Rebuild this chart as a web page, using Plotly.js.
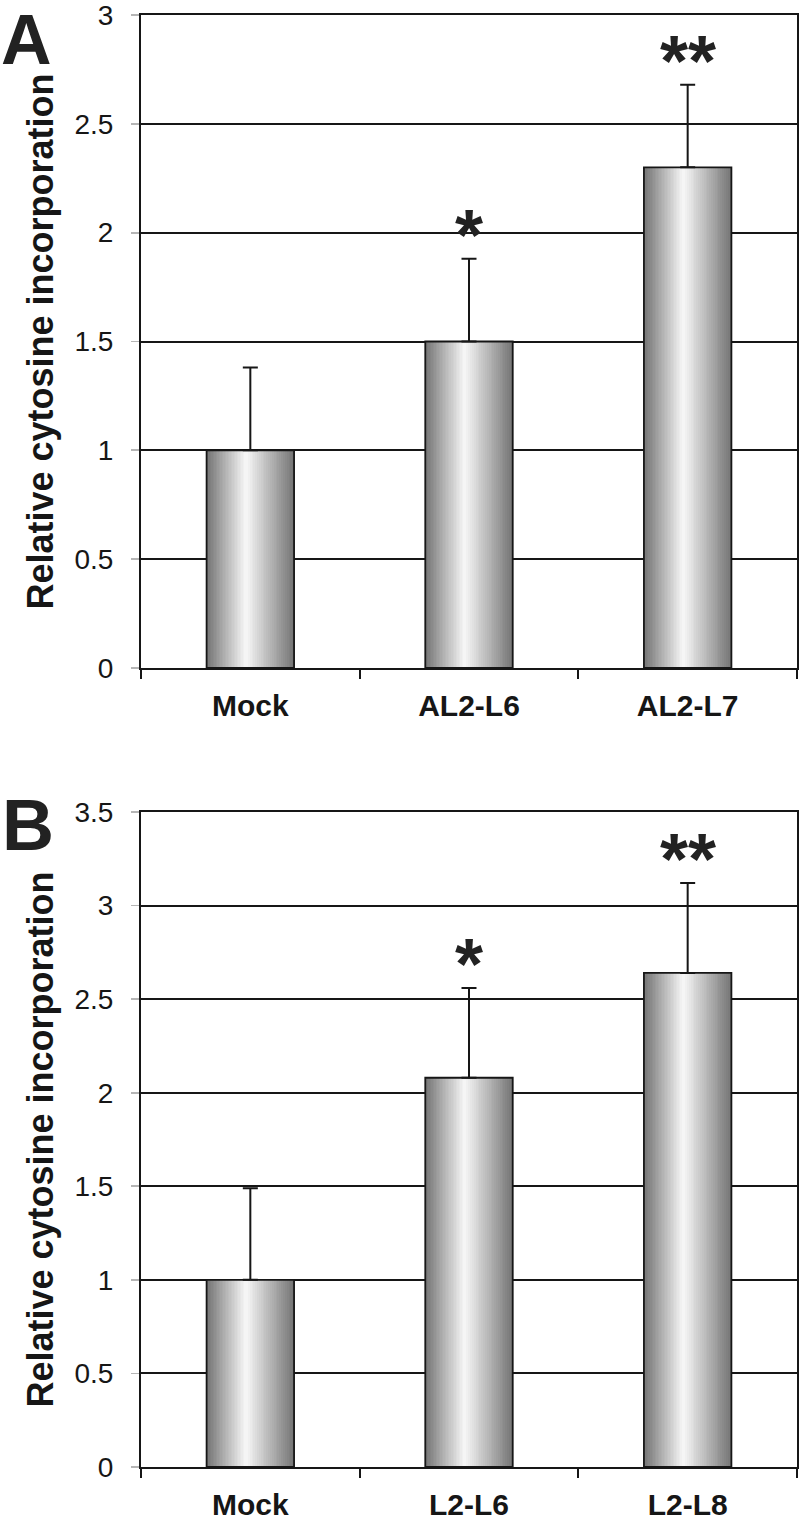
<!DOCTYPE html>
<html>
<head>
<meta charset="utf-8">
<script src="https://cdn.plot.ly/plotly-3.0.1.min.js"></script>
<style>
  html, body { margin: 0; padding: 0; background: #ffffff; }
  #chart { width: 800px; height: 1521px; }
</style>
</head>
<body>
<div id="chart"></div>
<script>
// ---- data ----
const catsA = ['Mock', 'AL2-L6', 'AL2-L7'];
const valsA = [1.0, 1.5, 2.3];
const errA  = [0.38, 0.38, 0.38];
const sigA  = ['', '*', '**'];

const catsB = ['Mock', 'L2-L6', 'L2-L8'];
const valsB = [1.0, 2.08, 2.64];
const errB  = [0.49, 0.48, 0.48];
const sigB  = ['', '*', '**'];

const yTicksA = [0, 0.5, 1, 1.5, 2, 2.5, 3];
const yTicksB = [0, 0.5, 1, 1.5, 2, 2.5, 3, 3.5];

// ---- styling ----
const FONT = 'Liberation Sans, Arial, sans-serif';
const INK = '#161616';
const BARW = 0.4;
const LAYERS = 26;
const HILITE_SHIFT = -0.02;   // highlight slightly left of centre

function barTraces(cats, vals, errs, xa, ya) {
  const traces = [];
  for (let k = 0; k < LAYERS; k++) {
    const frac = k / LAYERS;
    const r = 1 - frac;                       // relative distance from highlight
    const w = BARW * r;
    const g = Math.round(250 - 132 * r);
    traces.push({
      type: 'bar', x: cats, y: vals, xaxis: xa, yaxis: ya,
      width: w, offset: -w / 2 + HILITE_SHIFT * frac,
      marker: { color: `rgb(${g},${g},${g})`, line: { width: 0 } },
      hoverinfo: 'skip', showlegend: false
    });
  }
  // outline + error bars on top
  traces.push({
    type: 'bar', x: cats, y: vals, xaxis: xa, yaxis: ya,
    width: BARW,
    marker: { color: 'rgba(0,0,0,0)', line: { color: INK, width: 1.8 } },
    error_y: { type: 'data', array: errs, arrayminus: errs.map(() => 0),
               symmetric: false, color: INK, thickness: 2, width: 7.5 },
    hoverinfo: 'skip', showlegend: false
  });
  return traces;
}

const data = [].concat(
  barTraces(catsA, valsA, errA, 'x', 'y'),
  barTraces(catsB, valsB, errB, 'x2', 'y2')
);

function xAxis(domainAnchor) {
  return {
    type: 'category', range: [-0.5, 2.5], anchor: domainAnchor,
    showline: true, linecolor: INK, linewidth: 2, mirror: true,
    ticks: 'outside', tickson: 'boundaries', ticklen: 9, tickwidth: 1.8, tickcolor: INK,
    showgrid: false, zeroline: false,
    tickfont: { family: FONT, size: 30, color: INK, weight: 700 },
    ticklabelstandoff: 10, fixedrange: true
  };
}
function yAxis(range, ticks, dom, anchor) {
  return {
    range: range, domain: dom, anchor: anchor,
    tickmode: 'array', tickvals: ticks, ticktext: ticks.map(String),
    showline: true, linecolor: INK, linewidth: 2, mirror: true,
    showgrid: true, gridcolor: INK, gridwidth: 2, zeroline: false,
    ticks: 'outside', ticklen: 8, tickwidth: 1.8, tickcolor: '#b5b5b5',
    tickfont: { family: FONT, size: 28, color: INK },
    ticklabelstandoff: 12, ticklabeloverflow: 'allow',
    title: { text: 'Relative cytosine incorporation', standoff: 10,
             font: { family: FONT, size: 36, color: INK, weight: 700 } },
    fixedrange: true
  };
}

const annotations = [];
function addSig(cats, vals, errs, sig, xa, ya) {
  cats.forEach((c, i) => {
    if (!sig[i]) return;
    annotations.push({
      x: c, y: vals[i] + errs[i], xref: xa, yref: ya,
      text: sig[i], showarrow: false, xanchor: 'center', yanchor: 'bottom',
      yshift: -18,
      font: { family: FONT, size: 72, color: '#222', weight: 700 }
    });
  });
}
addSig(catsA, valsA, errA, sigA, 'x', 'y');
addSig(catsB, valsB, errB, sigB, 'x2', 'y2');

// panel letters
annotations.push({ text: 'A', xref: 'paper', yref: 'paper', x: -141 / 656, y: 1467 / 1452,
  xanchor: 'left', yanchor: 'top', showarrow: false, borderpad: 0,
  font: { family: FONT, size: 70, color: '#222', weight: 700 } });
annotations.push({ text: 'B', xref: 'paper', yref: 'paper', x: -141 / 656, y: (1467 - 825) / 1452,
  xanchor: 'left', yanchor: 'middle', showarrow: false,
  font: { family: FONT, size: 72, color: '#222', weight: 700 } });

const layout = {
  width: 800, height: 1521,
  margin: { l: 141, r: 3, t: 15, b: 54 },
  paper_bgcolor: '#ffffff', plot_bgcolor: '#ffffff',
  barmode: 'overlay', bargap: 0,
  showlegend: false,
  xaxis: xAxis('y'),
  yaxis: yAxis([0, 3], yTicksA, [(1467 - 668) / 1452, 1], 'x'),
  xaxis2: xAxis('y2'),
  yaxis2: yAxis([0, 3.5], yTicksB, [0, (1467 - 812) / 1452], 'x2'),
  annotations: annotations
};

Plotly.newPlot('chart', data, layout, { displayModeBar: false, staticPlot: true });
</script>
</body>
</html>
